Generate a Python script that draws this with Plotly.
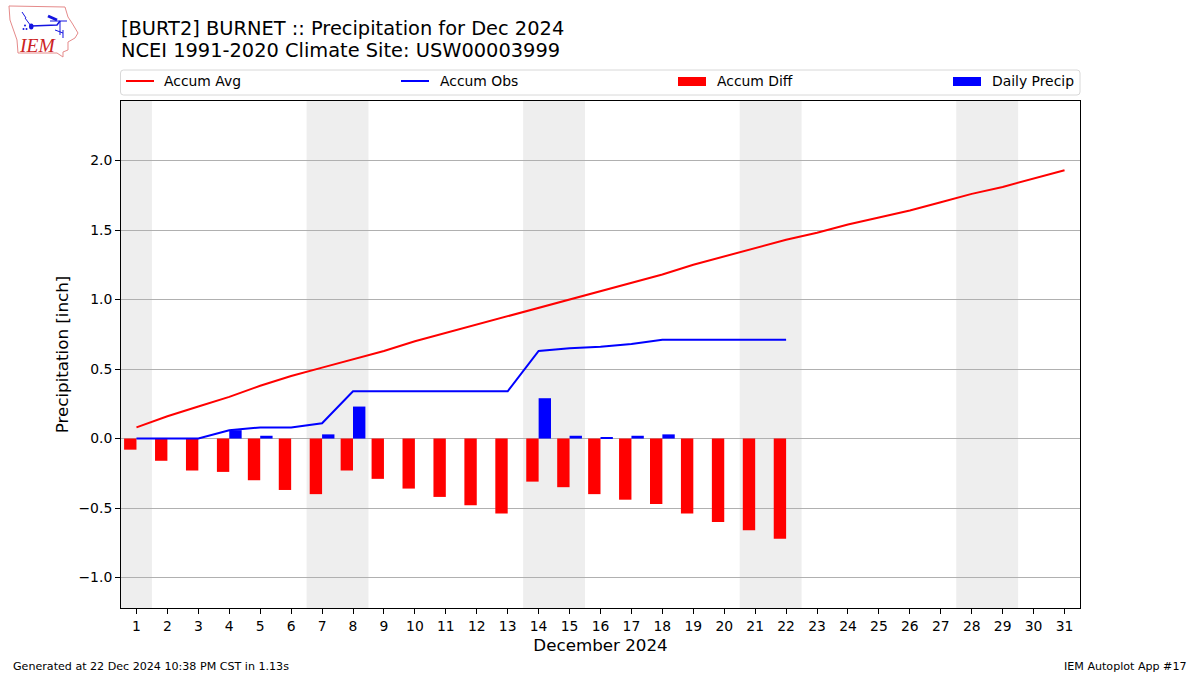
import plotly.graph_objects as go

W, H = 1200, 675
L, R, T, B = 121.0, 1080.0, 101.0, 608.0

days = list(range(1, 32))
accum_avg = [0.08, 0.16, 0.23, 0.30, 0.38, 0.45, 0.51, 0.57, 0.63, 0.70, 0.76, 0.82, 0.88, 0.94, 1.00, 1.06,
             1.12, 1.18, 1.25, 1.31, 1.37, 1.43, 1.48, 1.54, 1.59, 1.64, 1.70, 1.76, 1.81, 1.87, 1.93]
obs_days = list(range(1, 23))
accum_obs = [0, 0, 0, 0.06, 0.08, 0.08, 0.11, 0.34, 0.34, 0.34, 0.34, 0.34, 0.34, 0.63, 0.65, 0.66, 0.68,
             0.71, 0.71, 0.71, 0.71, 0.71]
accum_diff = [-0.08, -0.16, -0.23, -0.24, -0.30, -0.37, -0.40, -0.23, -0.29, -0.36, -0.42, -0.48, -0.54,
              -0.31, -0.35, -0.40, -0.44, -0.47, -0.54, -0.60, -0.66, -0.72]
daily_precip = [0, 0, 0, 0.06, 0.02, 0, 0.03, 0.23, 0, 0, 0, 0, 0, 0.29, 0.02, 0.01, 0.02, 0.03, 0, 0, 0, 0]
weekend_bands = [(0.5, 1.5), (6.5, 8.5), (13.5, 15.5), (20.5, 22.5), (27.5, 29.5)]
y_ticks = [-1.0, -0.5, 0.0, 0.5, 1.0, 1.5, 2.0]
y_labels = ["\u22121.0", "\u22120.5", "0.0", "0.5", "1.0", "1.5", "2.0"]

FONT = "DejaVu Sans"
TXT = "#000000"


def px(x):
    return (x - L) / (R - L)


def py(y):
    return (B - y) / (B - T)


def path(points, close=False):
    s = "M " + " L ".join(f"{px(x):.5f},{py(y):.5f}" for x, y in points)
    return s + (" Z" if close else "")


def text(s, x, y, size, anchor="left", family=FONT, color=TXT):
    return dict(text=s, x=px(x), y=py(y), xref="paper", yref="paper", xanchor=anchor, yanchor="middle",
                showarrow=False, font=dict(family=family, size=size, color=color), borderpad=0)


fig = go.Figure()
fig.add_trace(go.Scatter(x=days, y=accum_avg, mode="lines", name="Accum Avg",
                         line=dict(color="#ff0000", width=2)))
fig.add_trace(go.Scatter(x=obs_days, y=accum_obs, mode="lines", name="Accum Obs",
                         line=dict(color="#0000ff", width=2)))
fig.add_trace(go.Bar(x=obs_days, y=accum_diff, name="Accum Diff", width=0.4, offset=-0.4,
                     marker=dict(color="#ff0000", line=dict(width=0))))
fig.add_trace(go.Bar(x=obs_days, y=daily_precip, name="Daily Precip", width=0.4, offset=0,
                     marker=dict(color="#0000ff", line=dict(width=0))))

shapes = []
for a, b in weekend_bands:
    shapes.append(dict(type="rect", xref="x", yref="paper", x0=a, x1=b, y0=0, y1=1,
                       fillcolor="#eeeeee", line=dict(width=0), layer="below"))

# Logo: Iowa outline and station-model glyph, placed in page pixels
iowa = [(9, 6), (65, 7), (68, 17), (72, 23), (78, 33), (75, 38), (68, 42), (68, 50), (63, 52),
        (63, 57), (57, 53), (18, 53), (17, 40), (10, 20)]
shapes.append(dict(type="path", xref="paper", yref="paper", path=path(iowa, True),
                   line=dict(color="#e58a8a", width=1), fillcolor="rgba(0,0,0,0)"))
segments = [
    ([(31, 26), (57, 25), (60, 21)], 1.5), ([(25, 18), (31, 26)], 1), ([(22, 12), (26, 18)], 1),
    ([(48, 16), (57, 20)], 3), ([(50, 21), (67, 21)], 1), ([(60, 21), (60, 35)], 1),
    ([(55, 30), (63, 33)], 1), ([(63, 30), (63, 38)], 1),
]
for pts, w in segments:
    shapes.append(dict(type="path", xref="paper", yref="paper", path=path(pts),
                       line=dict(color="#1414e0", width=w)))
shapes.append(dict(type="circle", xref="paper", yref="paper", x0=px(29), x1=px(33.5), y0=py(29.5), y1=py(23.5),
                   fillcolor="#1414e0", line=dict(width=0)))
for cx, cy in [(23.5, 29), (26.5, 29), (25, 25.5)]:
    shapes.append(dict(type="circle", xref="paper", yref="paper", x0=px(cx - 1), x1=px(cx + 1),
                       y0=py(cy + 1), y1=py(cy - 1), fillcolor="#1414e0", line=dict(width=0)))

# Legend frame and handles, laid out as in the reference
x0, x1, y0, y1, r = 120.5, 1080.0, 70.0, 95.0, 3.0
frame = (f"M {px(x0 + r):.5f},{py(y0):.5f} L {px(x1 - r):.5f},{py(y0):.5f} "
         f"Q {px(x1):.5f},{py(y0):.5f} {px(x1):.5f},{py(y0 + r):.5f} "
         f"L {px(x1):.5f},{py(y1 - r):.5f} Q {px(x1):.5f},{py(y1):.5f} {px(x1 - r):.5f},{py(y1):.5f} "
         f"L {px(x0 + r):.5f},{py(y1):.5f} Q {px(x0):.5f},{py(y1):.5f} {px(x0):.5f},{py(y1 - r):.5f} "
         f"L {px(x0):.5f},{py(y0 + r):.5f} Q {px(x0):.5f},{py(y0):.5f} {px(x0 + r):.5f},{py(y0):.5f} Z")
shapes.append(dict(type="path", xref="paper", yref="paper", path=frame,
                   line=dict(color="#d8d8d8", width=1), fillcolor="white"))
for hx, col in [(126, "#ff0000"), (401, "#0000ff")]:
    shapes.append(dict(type="line", xref="paper", yref="paper", x0=px(hx), x1=px(hx + 28),
                       y0=py(81), y1=py(81), line=dict(color=col, width=2)))
for hx, col in [(678, "#ff0000"), (953, "#0000ff")]:
    shapes.append(dict(type="rect", xref="paper", yref="paper", x0=px(hx), x1=px(hx + 28),
                       y0=py(77), y1=py(86), fillcolor=col, line=dict(width=0)))

annotations = [
    text("[BURT2] BURNET :: Precipitation for Dec 2024", 119.5, 29, 19.4),
    text("NCEI 1991-2020 Climate Site: USW00003999", 119.5, 50.5, 19.4),
    text("Accum Avg", 163, 81.5, 13.9),
    text("Accum Obs", 439, 81.5, 13.9),
    text("Accum Diff", 716, 81.5, 13.9),
    text("Daily Precip", 991, 81.5, 13.9),
    text("Generated at 22 Dec 2024 10:38 PM CST in 1.13s", 11.5, 666, 11.1),
    text("IEM Autoplot App #17", 1188, 666, 11.1, anchor="right"),
    text("<i>IEM</i>", 37, 45, 19.5, anchor="center", family="Liberation Serif", color="#cc2222"),
]

fig.update_layout(
    width=W, height=H, autosize=False,
    margin=dict(l=L, r=W - R, t=T, b=H - B, pad=0),
    paper_bgcolor="white", plot_bgcolor="white",
    font=dict(family=FONT, size=13.9, color=TXT),
    barmode="overlay", showlegend=False,
    shapes=shapes, annotations=annotations,
    xaxis=dict(range=[0.5, 31.5], tickmode="array", tickvals=days, ticktext=[str(d) for d in days],
               ticks="outside", ticklen=5, tickwidth=1, tickcolor="black", showgrid=False, zeroline=False,
               showline=True, linecolor="black", linewidth=1, mirror=True,
               title=dict(text="December 2024", font=dict(family=FONT, size=16.7, color=TXT), standoff=6),
               tickfont=dict(family=FONT, size=13.9, color=TXT)),
    yaxis=dict(range=[-1.219, 2.428], tickmode="array", tickvals=y_ticks, ticktext=y_labels,
               ticks="outside", ticklen=5, tickwidth=1, tickcolor="black",
               showgrid=True, gridcolor="#b0b0b0", gridwidth=1,
               zeroline=True, zerolinecolor="#b0b0b0", zerolinewidth=1,
               showline=True, linecolor="black", linewidth=1, mirror=True,
               title=dict(text="Precipitation [inch]", font=dict(family=FONT, size=16.7, color=TXT), standoff=5),
               tickfont=dict(family=FONT, size=13.9, color=TXT)),
)

fig.write_html("out.html", config=dict(displayModeBar=False),
               post_script="document.body.style.margin='0';")
